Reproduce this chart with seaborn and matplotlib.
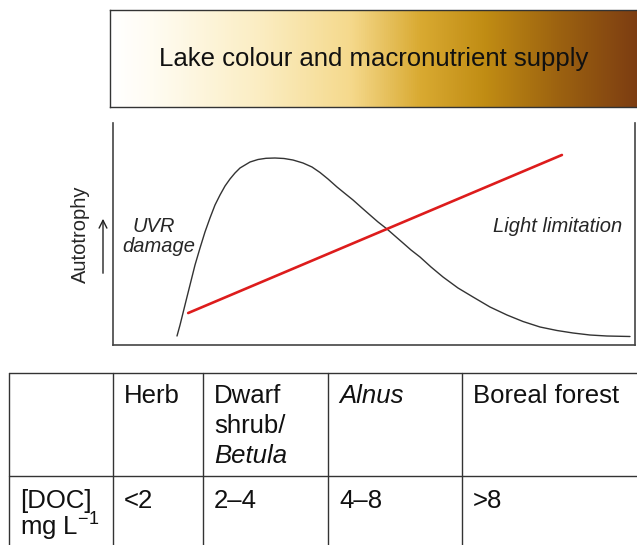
import numpy as np
import matplotlib
matplotlib.use("Agg")
import matplotlib.pyplot as plt
import seaborn as sns
from matplotlib.colors import LinearSegmentedColormap

# Autotrophy curve (x = lake colour, y = autotrophy, both 0-100)
curve_x = [12.26, 12.84, 13.41, 13.98, 14.75, 15.71, 16.67, 17.62, 18.58, 19.54,
           20.50, 21.46, 22.41, 23.37, 24.33, 25.29, 26.25, 27.78, 29.31, 31.03,
           32.76, 34.48, 36.40, 38.12, 39.66, 41.19, 42.91, 44.44, 45.98, 47.70,
           49.23, 50.77, 52.49, 54.02, 55.56, 57.09, 58.81, 60.92, 63.22, 66.09,
           68.97, 72.22, 75.48, 78.54, 81.80, 85.06, 88.12, 91.38, 94.64, 99.04]
curve_y = [4.05, 9.01, 14.41, 19.82, 27.03, 36.04, 43.69, 50.90, 57.21, 63.06,
           67.57, 71.62, 74.77, 77.48, 79.73, 81.08, 82.43, 83.56, 84.10, 84.23,
           84.01, 83.33, 81.98, 80.18, 77.70, 74.77, 71.17, 68.24, 65.32, 61.71,
           58.56, 55.41, 52.25, 49.10, 45.95, 42.79, 39.64, 35.14, 30.63, 25.68,
           21.62, 17.12, 13.51, 10.59, 8.11, 6.53, 5.41, 4.50, 4.05, 3.83]

# Macronutrient supply line (red)
supply_x = [14.4, 86.0]
supply_y = [14.4, 85.6]

# Lake colour gradient, white -> gold -> brown
gradient_stops = [0.0, 0.08, 0.28, 0.45, 0.58, 0.70, 0.84, 1.0]
gradient_colors = ["#ffffff", "#fffcf2", "#fbedc2", "#f5d98c", "#d9aa32",
                   "#c18d14", "#9c6210", "#7a3a12"]

title = "Lake colour and macronutrient supply"

header_cells = [[], ["Herb"], ["Dwarf", "shrub/", "Betula"], ["Alnus"], ["Boreal forest"]]
doc_cells = [["[DOC]", "mg L$^{-1}$"], ["<2"], ["2\u20134"], ["4\u20138"], [">8"]]
italic_words = {"Betula", "Alnus"}

W, H = 637, 545

sns.set_style("white")
plt.rcParams["font.family"] = ["Liberation Sans", "DejaVu Sans"]
plt.rcParams["mathtext.fontset"] = "custom"
plt.rcParams["mathtext.rm"] = "Liberation Sans"
plt.rcParams["mathtext.it"] = "Liberation Sans:italic"

fig = plt.figure(figsize=(W / 100, H / 100), dpi=100)


def box(x0, y0, x1, y1):
    return [x0 / W, 1 - y1 / H, (x1 - x0) / W, (y1 - y0) / H]


# gradient bar
ax_top = fig.add_axes(box(110, 10, 645, 107))
cmap = LinearSegmentedColormap.from_list("lake", list(zip(gradient_stops, gradient_colors)))
ax_top.imshow(np.linspace(0, 1, 512)[None, :], aspect="auto", cmap=cmap, extent=[0, 1, 0, 1])
ax_top.set_xticks([])
ax_top.set_yticks([])
for s in ax_top.spines.values():
    s.set_color("#333333")
    s.set_linewidth(1.0)

# autotrophy panel
ax = fig.add_axes(box(113, 123, 635, 345))
sns.lineplot(x=curve_x, y=curve_y, ax=ax, sort=False, estimator=None,
             color="#333333", linewidth=1.0)
sns.lineplot(x=supply_x, y=supply_y, ax=ax, sort=False, estimator=None,
             color="#dd1c1c", linewidth=1.9)
ax.set_xlim(0, 100)
ax.set_ylim(0, 100)
ax.set_xticks([])
ax.set_yticks([])
sns.despine(ax=ax, top=True, right=False, left=False, bottom=False)
for s in ["left", "right", "bottom"]:
    ax.spines[s].set_color("#444444")
    ax.spines[s].set_linewidth(1.2)

# overlay in pixel coords for text, arrow and table
cv = fig.add_axes([0, 0, 1, 1])
cv.set_xlim(0, W)
cv.set_ylim(H, 0)
cv.axis("off")
cv.patch.set_alpha(0)

cv.text(374, 66, title, ha="center", va="baseline", fontsize=18.5, color="#111111")
cv.text(132, 232, "UVR", style="italic", fontsize=14.5, va="baseline")
cv.text(122, 252, "damage", style="italic", fontsize=14.5, va="baseline")
cv.text(493, 232, "Light limitation", style="italic", fontsize=14.5, va="baseline")
cv.text(80, 234, "Autotrophy", rotation=90, ha="center", va="center", fontsize=14.5)
cv.annotate("", xy=(103, 216), xytext=(103, 276),
            arrowprops=dict(arrowstyle="->", lw=1.0, color="#222222", mutation_scale=14))

# table
col_edges = [9, 113, 203, 328, 462]
row_edges = [373, 476]
for y in row_edges:
    cv.plot([col_edges[0], W], [y, y], color="#333333", lw=1.0)
for x in col_edges:
    cv.plot([x, x], [row_edges[0], H], color="#333333", lw=1.0)

for i, cell in enumerate(header_cells):
    for k, word in enumerate(cell):
        cv.text(col_edges[i] + 11, 403 + 30 * k, word, fontsize=18.5, va="baseline",
                style="italic" if word in italic_words else "normal", color="#111111")
for i, cell in enumerate(doc_cells):
    for k, word in enumerate(cell):
        cv.text(col_edges[i] + 11, 508 + 28 * k, word, fontsize=18.5, va="baseline",
                color="#111111")

fig.savefig("out.png", dpi=100)
